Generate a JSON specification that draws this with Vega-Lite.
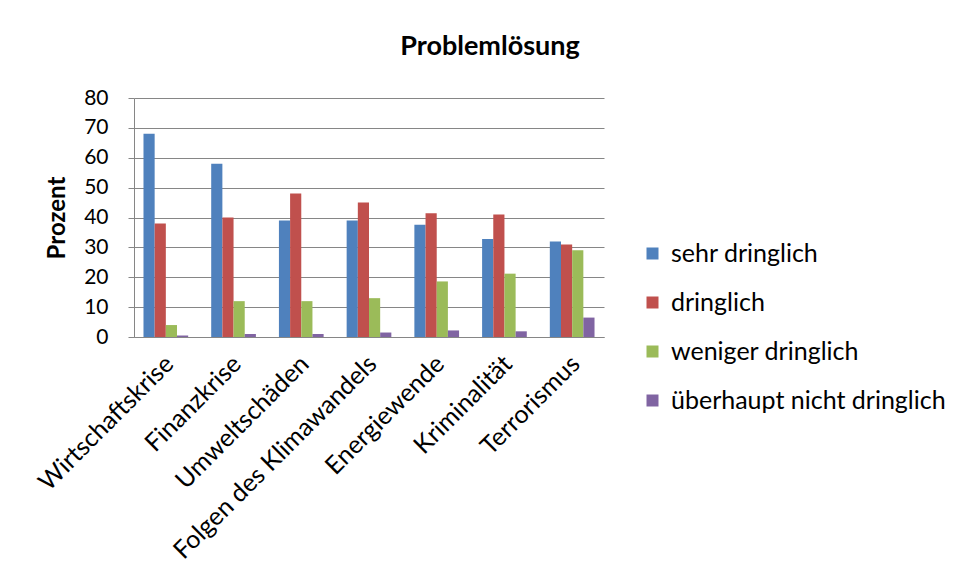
{
  "$schema": "https://vega.github.io/schema/vega-lite/v6.json",
  "width": 470,
  "height": 239,
  "padding": {"left": 34, "top": 33, "right": 10, "bottom": 5},
  "background": "white",
  "title": {
    "text": "Problemlösung",
    "font": "Lato",
    "fontSize": 27,
    "fontWeight": "bold",
    "color": "black",
    "anchor": "middle",
    "dx": 121,
    "offset": 26
  },
  "data": {
    "values": [
      {"Thema": "Wirtschaftskrise", "Dringlichkeit": "sehr dringlich", "Prozent": 68},
      {"Thema": "Wirtschaftskrise", "Dringlichkeit": "dringlich", "Prozent": 38},
      {"Thema": "Wirtschaftskrise", "Dringlichkeit": "weniger dringlich", "Prozent": 4},
      {"Thema": "Wirtschaftskrise", "Dringlichkeit": "überhaupt nicht dringlich", "Prozent": 0.5},
      {"Thema": "Finanzkrise", "Dringlichkeit": "sehr dringlich", "Prozent": 58},
      {"Thema": "Finanzkrise", "Dringlichkeit": "dringlich", "Prozent": 40},
      {"Thema": "Finanzkrise", "Dringlichkeit": "weniger dringlich", "Prozent": 12},
      {"Thema": "Finanzkrise", "Dringlichkeit": "überhaupt nicht dringlich", "Prozent": 1},
      {"Thema": "Umweltschäden", "Dringlichkeit": "sehr dringlich", "Prozent": 39},
      {"Thema": "Umweltschäden", "Dringlichkeit": "dringlich", "Prozent": 48},
      {"Thema": "Umweltschäden", "Dringlichkeit": "weniger dringlich", "Prozent": 12},
      {"Thema": "Umweltschäden", "Dringlichkeit": "überhaupt nicht dringlich", "Prozent": 1},
      {"Thema": "Folgen des Klimawandels", "Dringlichkeit": "sehr dringlich", "Prozent": 39},
      {"Thema": "Folgen des Klimawandels", "Dringlichkeit": "dringlich", "Prozent": 45},
      {"Thema": "Folgen des Klimawandels", "Dringlichkeit": "weniger dringlich", "Prozent": 13},
      {"Thema": "Folgen des Klimawandels", "Dringlichkeit": "überhaupt nicht dringlich", "Prozent": 1.5},
      {"Thema": "Energiewende", "Dringlichkeit": "sehr dringlich", "Prozent": 37.6},
      {"Thema": "Energiewende", "Dringlichkeit": "dringlich", "Prozent": 41.4},
      {"Thema": "Energiewende", "Dringlichkeit": "weniger dringlich", "Prozent": 18.6},
      {"Thema": "Energiewende", "Dringlichkeit": "überhaupt nicht dringlich", "Prozent": 2.2},
      {"Thema": "Kriminalität", "Dringlichkeit": "sehr dringlich", "Prozent": 32.8},
      {"Thema": "Kriminalität", "Dringlichkeit": "dringlich", "Prozent": 41},
      {"Thema": "Kriminalität", "Dringlichkeit": "weniger dringlich", "Prozent": 21.2},
      {"Thema": "Kriminalität", "Dringlichkeit": "überhaupt nicht dringlich", "Prozent": 1.9},
      {"Thema": "Terrorismus", "Dringlichkeit": "sehr dringlich", "Prozent": 32},
      {"Thema": "Terrorismus", "Dringlichkeit": "dringlich", "Prozent": 31},
      {"Thema": "Terrorismus", "Dringlichkeit": "weniger dringlich", "Prozent": 29},
      {"Thema": "Terrorismus", "Dringlichkeit": "überhaupt nicht dringlich", "Prozent": 6.5}
    ]
  },
  "mark": {"type": "bar"},
  "encoding": {
    "x": {
      "field": "Thema",
      "type": "nominal",
      "sort": null,
      "title": null,
      "scale": {"paddingInner": 0.34, "paddingOuter": 0.14},
      "axis": {
        "labelAngle": -45,
        "labelAlign": "right",
        "labelBaseline": "top",
        "labelFont": "Lato",
        "labelFontSize": 25,
        "labelColor": "black",
        "labelPadding": 14,
        "labelOffset": -5,
        "labelLimit": 400,
        "ticks": false,
        "domainColor": "#868686",
        "domainWidth": 1,
        "grid": false
      }
    },
    "xOffset": {
      "field": "Dringlichkeit",
      "type": "nominal",
      "sort": ["sehr dringlich", "dringlich", "weniger dringlich", "überhaupt nicht dringlich"],
      "scale": {"paddingInner": 0, "paddingOuter": 0}
    },
    "y": {
      "field": "Prozent",
      "type": "quantitative",
      "title": "Prozent",
      "scale": {"domain": [0, 80], "nice": false},
      "axis": {
        "values": [0, 10, 20, 30, 40, 50, 60, 70, 80],
        "labelFont": "Lato",
        "labelFontSize": 21,
        "labelColor": "black",
        "labelPadding": 20,
        "tickSize": 6,
        "tickColor": "#868686",
        "domainColor": "#868686",
        "gridColor": "#868686",
        "titleFont": "Lato",
        "titleFontSize": 24,
        "titleFontWeight": "bold",
        "titleColor": "black",
        "titlePadding": 14
      }
    },
    "color": {
      "field": "Dringlichkeit",
      "type": "nominal",
      "sort": ["sehr dringlich", "dringlich", "weniger dringlich", "überhaupt nicht dringlich"],
      "scale": {
        "domain": ["sehr dringlich", "dringlich", "weniger dringlich", "überhaupt nicht dringlich"],
        "range": ["#4F81BD", "#C0504D", "#9BBB59", "#8064A2"]
      },
      "legend": {
        "title": null,
        "orient": "none",
        "legendX": 506,
        "legendY": 143,
        "symbolType": "square",
        "symbolSize": 144,
        "symbolStrokeWidth": 0,
        "labelFont": "Lato",
        "labelFontSize": 25,
        "labelColor": "black",
        "labelOffset": 6,
        "rowPadding": 23,
        "labelLimit": 400
      }
    }
  },
  "config": {
    "view": {"stroke": null}
  }
}
